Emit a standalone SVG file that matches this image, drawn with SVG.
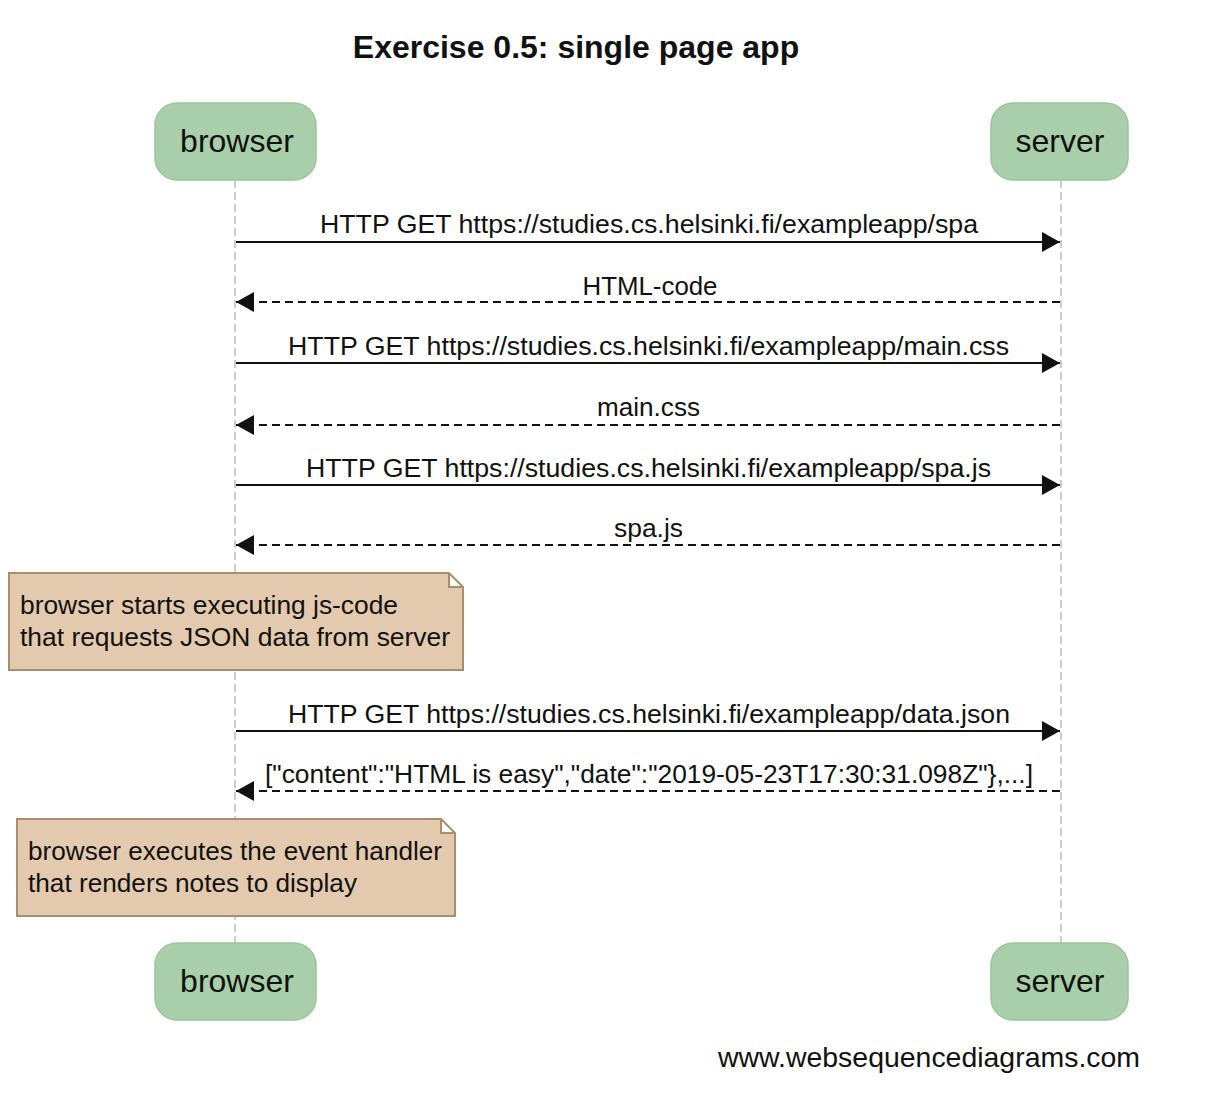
<svg xmlns="http://www.w3.org/2000/svg" width="1206" height="1110" viewBox="0 0 1206 1110">
<style>
text{font-family:"Liberation Sans",Arial,sans-serif;fill:#111}
.title{font-size:32px;font-weight:bold}
.actor rect{fill:#a8cfa9;stroke:#9cc49d;stroke-width:1.5}
.actor text{font-size:32px;text-anchor:middle}
.life{stroke:#bdbdbd;stroke-width:1.5;stroke-dasharray:8 4;fill:none}
.msg{stroke:#111;stroke-width:2;fill:none}
.ret{stroke-dasharray:8 5}
.lbl{font-size:25px;text-anchor:middle}
.note path{fill:#e3c9ad;stroke:#a88e6c;stroke-width:2}
.note text{font-size:25px}
.foot{font-size:28px}
</style>
<defs>
<marker id="ah" markerWidth="20" markerHeight="20" refX="18" refY="10" orient="auto" markerUnits="userSpaceOnUse">
<path d="M0,0 L18,10 L0,20 Z" fill="#111"/>
</marker>
</defs>
<text class="title" x="576" y="58" text-anchor="middle">Exercise 0.5: single page app</text>
<g id="lifelines">
<line class="life" x1="235" y1="180" x2="235" y2="943"/>
<line class="life" x1="1061" y1="180" x2="1061" y2="943"/>
</g>
<g id="browser-top" class="actor"><rect x="155" y="103" width="161" height="77" rx="22"/><text x="237" y="152">browser</text></g>
<g id="server-top" class="actor"><rect x="991" y="103" width="137" height="77" rx="22"/><text x="1060" y="152">server</text></g>
<g id="browser-bottom" class="actor"><rect x="155" y="943" width="161" height="77" rx="22"/><text x="237" y="992">browser</text></g>
<g id="server-bottom" class="actor"><rect x="991" y="943" width="137" height="77" rx="22"/><text x="1060" y="992">server</text></g>
<g id="connectors">
<line class="msg" x1="236" y1="242" x2="1060" y2="242" marker-end="url(#ah)"/>
<text class="lbl" x="649" y="233" textLength="658" lengthAdjust="spacingAndGlyphs">HTTP GET https://studies.cs.helsinki.fi/exampleapp/spa</text>
<line class="msg ret" x1="1060" y1="302" x2="236" y2="302" marker-end="url(#ah)"/>
<text class="lbl" x="650" y="295" textLength="135" lengthAdjust="spacingAndGlyphs">HTML-code</text>
<line class="msg" x1="236" y1="363" x2="1060" y2="363" marker-end="url(#ah)"/>
<text class="lbl" x="648.5" y="355" textLength="721" lengthAdjust="spacingAndGlyphs">HTTP GET https://studies.cs.helsinki.fi/exampleapp/main.css</text>
<line class="msg ret" x1="1060" y1="425" x2="236" y2="425" marker-end="url(#ah)"/>
<text class="lbl" x="648.5" y="416" textLength="103" lengthAdjust="spacingAndGlyphs">main.css</text>
<line class="msg" x1="236" y1="485" x2="1060" y2="485" marker-end="url(#ah)"/>
<text class="lbl" x="648.5" y="477" textLength="685" lengthAdjust="spacingAndGlyphs">HTTP GET https://studies.cs.helsinki.fi/exampleapp/spa.js</text>
<line class="msg ret" x1="1060" y1="545" x2="236" y2="545" marker-end="url(#ah)"/>
<text class="lbl" x="648.5" y="537" textLength="69" lengthAdjust="spacingAndGlyphs">spa.js</text>
<line class="msg" x1="236" y1="731" x2="1060" y2="731" marker-end="url(#ah)"/>
<text class="lbl" x="649" y="723" textLength="722" lengthAdjust="spacingAndGlyphs">HTTP GET https://studies.cs.helsinki.fi/exampleapp/data.json</text>
<line class="msg ret" x1="1060" y1="791" x2="236" y2="791" marker-end="url(#ah)"/>
<text class="lbl" x="649" y="783" textLength="768" lengthAdjust="spacingAndGlyphs">["content":"HTML is easy","date":"2019-05-23T17:30:31.098Z"},...]</text>
</g>
<g id="note1" class="note">
<path d="M9,573 H449 L463,587 V670 H9 Z M449,573 V587 H463"/>
<text x="20" y="614" textLength="378" lengthAdjust="spacingAndGlyphs">browser starts executing js-code</text>
<text x="20" y="646" textLength="430" lengthAdjust="spacingAndGlyphs">that requests JSON data from server</text>
</g>
<g id="note2" class="note">
<path d="M17,819 H441 L455,833 V916 H17 Z M441,819 V833 H455"/>
<text x="28" y="860" textLength="414" lengthAdjust="spacingAndGlyphs">browser executes the event handler</text>
<text x="28" y="892" textLength="329" lengthAdjust="spacingAndGlyphs">that renders notes to display</text>
</g>
<text class="foot" x="718" y="1067" textLength="422" lengthAdjust="spacingAndGlyphs">www.websequencediagrams.com</text>
</svg>
